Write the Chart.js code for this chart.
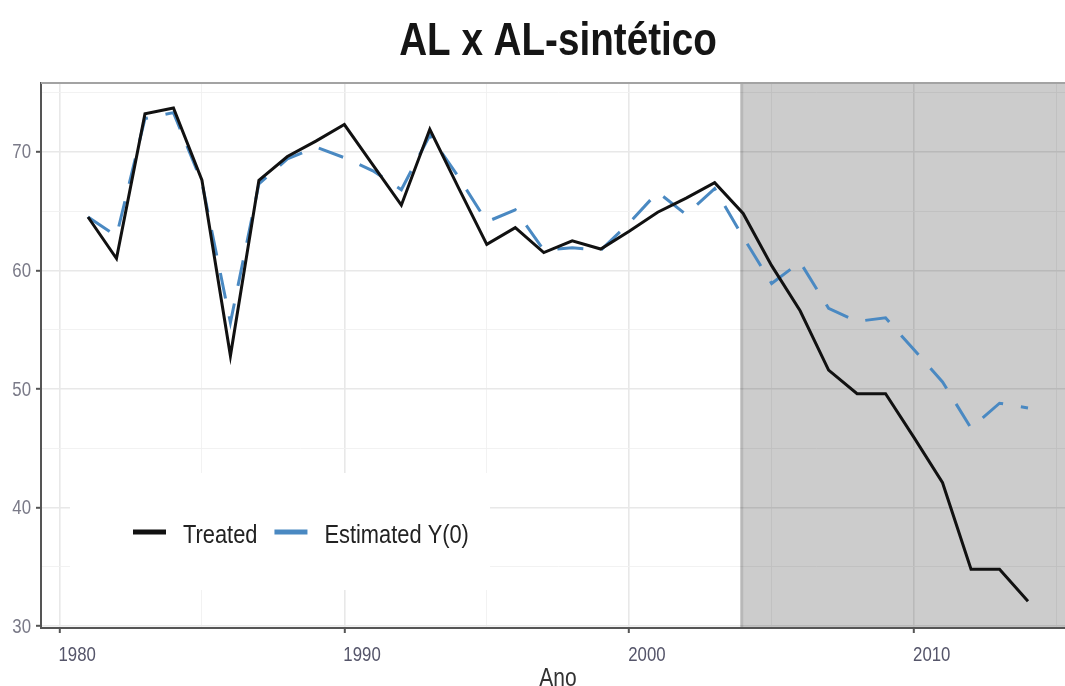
<!DOCTYPE html>
<html>
<head>
<meta charset="utf-8">
<script src="https://cdn.jsdelivr.net/npm/chart.js@4.4.1/dist/chart.umd.min.js"></script>
<style>
    html, body { margin: 0; padding: 0; background: #fff; overflow: hidden; }
    #wrap { width: 1078px; height: 686px; position: relative; }
</style>
</head>
<body>
<div id="wrap"><canvas id="synthChart"></canvas></div>
<script>
// =========================================
// Data
// =========================================

const years = [
    1981, 1982, 1983, 1984, 1985, 1986, 1987, 1988, 1989, 1990,
    1991, 1992, 1993, 1994, 1995, 1996, 1997, 1998, 1999, 2000,
    2001, 2002, 2003, 2004, 2005, 2006, 2007, 2008, 2009, 2010,
    2011, 2012, 2013, 2014
];

const treated = [
    64.5, 61.0, 73.2, 73.7, 67.6, 52.8, 67.6, 69.6, 70.9, 72.3,
    68.9, 65.5, 71.9, 67.0, 62.2, 63.6, 61.5, 62.5, 61.8, 63.3,
    64.9, 66.1, 67.4, 64.8, 60.4, 56.6, 51.6, 49.6, 49.6, 45.9,
    42.1, 34.8, 34.8, 32.1
];

const estimated = [
    64.5, 62.9, 72.8, 73.3, 67.4, 55.6, 67.3, 69.4, 70.4, 69.5,
    68.4, 66.8, 71.4, 67.9, 64.1, 65.1, 61.7, 61.9, 61.7, 64.0,
    66.6, 64.7, 66.9, 62.8, 58.9, 60.7, 56.8, 55.7, 56.0, 53.3,
    50.6, 46.7, 48.8, 48.4
];

const seriesLabels = ["Treated", "Estimated Y(0)"];

const chartTitle = "AL x AL-sintético";
const xTitle = "Ano";

// start of the post-treatment shaded period
const shadeStart = 2003.9;

// narrow look of the original text (no condensed font installed)
const FONT = "'Liberation Sans', Arial, sans-serif";
const NARROW = 0.84;


// =========================================
// Helpers
// =========================================

const isMajor = (v) => Math.round(v) % 10 === 0;

function narrowText(ctx, text, x, y, font, color, align, baseline) {
    ctx.save();
    ctx.font = font;
    ctx.fillStyle = color;
    ctx.textAlign = align;
    ctx.textBaseline = baseline;
    ctx.translate(x, y);
    ctx.scale(NARROW, 1);
    ctx.fillText(text, 0, 0);
    ctx.restore();
}


// =========================================
// Plugins
// =========================================

const shadePlugin = {

    id: "shade",

    beforeDatasetsDraw(chart) {

        const { ctx, chartArea, scales } = chart;
        const x0 = scales.x.getPixelForValue(shadeStart);

        ctx.save();
        ctx.fillStyle = "rgba(0,0,0,0.2)";
        ctx.fillRect(x0, chartArea.top, chartArea.right - x0, chartArea.bottom - chartArea.top - 1);

        ctx.strokeStyle = "rgba(0,0,0,0.1)";
        ctx.lineWidth = 3;
        ctx.beginPath();
        ctx.moveTo(x0 + 1.5, chartArea.top);
        ctx.lineTo(x0 + 1.5, chartArea.bottom - 1);
        ctx.stroke();
        ctx.restore();
    },

    afterDatasetsDraw(chart) {

        const { ctx, chartArea } = chart;

        ctx.save();
        ctx.strokeStyle = "#a3a3a3";
        ctx.lineWidth = 2;
        ctx.beginPath();
        ctx.moveTo(chartArea.left, chartArea.top);
        ctx.lineTo(chartArea.right, chartArea.top);
        ctx.stroke();
        ctx.restore();
    }
};

const textPlugin = {

    id: "narrowTexts",

    afterDraw(chart) {

        const { ctx, chartArea, scales } = chart;
        const midX = (chartArea.left + chartArea.right) / 2;

        // title
        narrowText(ctx, chartTitle, midX, 55,
            "bold 46px " + FONT, "#151515", "center", "alphabetic");

        // y tick labels
        scales.y.ticks.forEach((t) => {
            if (!isMajor(t.value)) return;
            narrowText(ctx, String(Math.round(t.value)),
                chartArea.left - 10, scales.y.getPixelForValue(t.value) + 1,
                "20px " + FONT, "#7a7a88", "right", "middle");
        });

        // x tick labels (left aligned on the tick)
        scales.x.ticks.forEach((t) => {
            if (!isMajor(t.value)) return;
            narrowText(ctx, String(Math.round(t.value)),
                scales.x.getPixelForValue(t.value) - 1, 661,
                "20px " + FONT, "#55556a", "left", "alphabetic");
        });

        // x axis title
        narrowText(ctx, xTitle, midX, 686,
            "25px " + FONT, "#333", "center", "alphabetic");

        // legend inside the panel
        const bx = chartArea.left + 29;
        const by = chartArea.bottom - 155;

        ctx.save();
        ctx.fillStyle = "#ffffff";
        ctx.fillRect(bx, by, 420, 117);
        ctx.restore();

        const cy = by + 60;
        const legendFont = "26px " + FONT;
        let x = bx + 63;

        chart.data.datasets.forEach((ds) => {

            ctx.save();
            ctx.strokeStyle = ds.borderColor;
            ctx.lineWidth = 5;
            ctx.beginPath();
            ctx.moveTo(x, cy - 1);
            ctx.lineTo(x + 33, cy - 1);
            ctx.stroke();
            ctx.font = legendFont;
            const w = ctx.measureText(ds.label).width * NARROW;
            ctx.restore();

            x += 50;
            narrowText(ctx, ds.label, x, cy + 3, legendFont, "#222", "left", "middle");
            x += w + 17;
        });
    }
};


// =========================================
// Chart
// =========================================

new Chart(document.getElementById("synthChart"), {

    type: "line",

    data: {

        datasets: [
            {
                label: seriesLabels[0],
                data: years.map((yr, i) => ({ x: yr, y: treated[i] })),
                borderColor: "#111111",
                borderWidth: 3,
                pointRadius: 0,
                tension: 0
            },
            {
                label: seriesLabels[1],
                data: years.map((yr, i) => ({ x: yr, y: estimated[i] })),
                borderColor: "#4a89c2",
                borderWidth: 3,
                borderDash: [26, 18],
                pointRadius: 0,
                tension: 0
            }
        ]
    },

    plugins: [shadePlugin, textPlugin],

    options: {

        responsive: true,
        maintainAspectRatio: false,
        animation: false,

        layout: {
            padding: { top: 83, right: 3 }
        },

        plugins: {
            legend: { display: false },
            tooltip: { enabled: false },
            title: { display: false }
        },

        scales: {

            x: {
                type: "linear",
                min: 1979.35,
                max: 2015.65,
                afterFit(scale) { scale.height = 58; },
                border: { display: true, color: "#555", width: 2 },
                grid: {
                    color: (c) => isMajor(c.tick.value) ? "#e8e8e8" : "#f1f1f1",
                    lineWidth: (c) => isMajor(c.tick.value) ? 1.6 : 0.9,
                    tickLength: 5,
                    tickColor: (c) => isMajor(c.tick.value) ? "#555" : "rgba(0,0,0,0)",
                    tickWidth: 2
                },
                ticks: {
                    stepSize: 5,
                    includeBounds: false,
                    autoSkip: false,
                    maxRotation: 0,
                    display: false
                }
            },

            y: {
                min: 29.85,
                max: 75.8,
                afterFit(scale) { scale.width = 41; },
                border: { display: true, color: "#555", width: 2 },
                grid: {
                    color: (c) => isMajor(c.tick.value) ? "#e8e8e8" : "#f1f1f1",
                    lineWidth: (c) => isMajor(c.tick.value) ? 1.6 : 0.9,
                    tickLength: 5,
                    tickColor: (c) => isMajor(c.tick.value) ? "#555" : "rgba(0,0,0,0)",
                    tickWidth: 2
                },
                ticks: {
                    stepSize: 5,
                    includeBounds: false,
                    autoSkip: false,
                    display: false
                }
            }
        }
    }
});
</script>
</body>
</html>
